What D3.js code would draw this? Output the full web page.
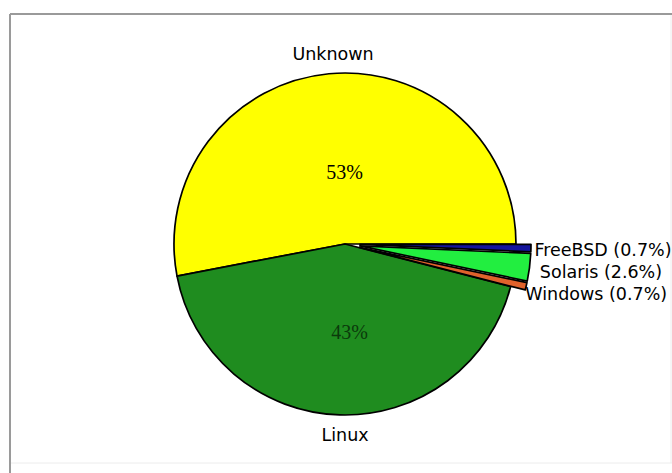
<!DOCTYPE html>
<html>
<head>
<meta charset="utf-8">
<script src="https://cdn.jsdelivr.net/npm/d3@7"></script>
<style>
  html, body { margin: 0; padding: 0; background: #fff; }
  svg { display: block; }
</style>
</head>
<body>
<svg id="chart" width="672" height="473"></svg>
<script>
// ---- data ----
const categories = ["Unknown", "Linux", "Windows", "Solaris", "FreeBSD"];
const values = [53, 43, 0.7, 2.6, 0.7];
const colors = ["#ffff00", "#1f8c1f", "#e0622c", "#22ee40", "#14149c"];
const smallSlices = ["Windows", "Solaris", "FreeBSD"];

const W = 672, H = 473;
const cx = 345, cy = 244, r = 171;
const explodeDist = 15;

const svg = d3.select("#chart");

// frame
svg.append("line").attr("x1", 10).attr("y1", 14).attr("x2", W).attr("y2", 14)
  .attr("stroke", "#9a9a9a").attr("stroke-width", 2);
svg.append("line").attr("x1", 10).attr("y1", 14).attr("x2", 10).attr("y2", H)
  .attr("stroke", "#9a9a9a").attr("stroke-width", 2);
svg.append("line").attr("x1", 11).attr("y1", 463).attr("x2", W).attr("y2", 463)
  .attr("stroke", "#ececec").attr("stroke-width", 1);
svg.append("line").attr("x1", 671).attr("y1", 15).attr("x2", 671).attr("y2", 463)
  .attr("stroke", "#ececec").attr("stroke-width", 1);

const data = categories.map((c, i) => ({ name: c, value: values[i], color: colors[i] }));

// counter-clockwise from 3 o'clock
const pie = d3.pie().sort(null).value(d => d.value)
  .startAngle(Math.PI / 2).endAngle(Math.PI / 2 - 2 * Math.PI);
const arcs = pie(data);
const arc = d3.arc().innerRadius(0).outerRadius(r);

const mid = a => (a.startAngle + a.endAngle) / 2;
const isSmall = a => smallSlices.includes(a.data.name);
const offset = a => {
  const m = mid(a), d = isSmall(a) ? explodeDist : 0;
  return [d * Math.sin(m), -d * Math.cos(m)];
};

const g = svg.append("g").attr("transform", `translate(${cx},${cy})`);

g.selectAll("path.slice").data(arcs).join("path")
  .attr("class", "slice")
  .attr("d", arc)
  .attr("transform", a => `translate(${offset(a)[0]},${offset(a)[1]})`)
  .attr("fill", a => a.data.color)
  .attr("stroke", "#000")
  .attr("stroke-width", 1.7)
  .attr("stroke-linejoin", "round");

// big slice labels: name outside, percent inside
const big = arcs.filter(a => !isSmall(a));
const outerR = r + 20, innerR = 80;

g.selectAll("text.name").data(big).join("text")
  .attr("class", "name")
  .attr("x", a => outerR * Math.sin(mid(a)) + 6)
  .attr("y", a => -outerR * Math.cos(mid(a)))
  .attr("text-anchor", "middle")
  .attr("dominant-baseline", "central")
  .attr("font-family", "DejaVu Sans, sans-serif")
  .attr("font-size", 17.5)
  .attr("fill", "#000")
  .text(a => a.data.name);

g.selectAll("text.pct").data(big).join("text")
  .attr("class", "pct")
  .attr("x", a => innerR * Math.sin(mid(a)) + 7)
  .attr("y", a => -innerR * Math.cos(mid(a)) + 8)
  .attr("text-anchor", "middle")
  .attr("dominant-baseline", "central")
  .attr("font-family", "Liberation Serif, serif")
  .attr("font-size", 20)
  .attr("fill", a => a.data.name === "Linux" ? "#0b3a0b" : "#000")
  .text(a => Math.round(a.data.value) + "%");

// small slice labels, stacked on the right (top to bottom by slice position)
const natY = a => -Math.cos(mid(a));
const small = arcs.filter(isSmall).sort((a, b) => natY(a) - natY(b)); // FreeBSD first (topmost)
const labR = 258, step = 22;
const y0 = labR * natY(small[0]);
g.selectAll("text.small").data(small).join("text")
  .attr("class", "small")
  .attr("x", a => labR * Math.sin(mid(a)))
  .attr("y", (a, i) => y0 + i * step)
  .attr("text-anchor", "middle")
  .attr("dominant-baseline", "central")
  .attr("font-family", "DejaVu Sans, sans-serif")
  .attr("font-size", 17.5)
  .attr("fill", "#000")
  .text(a => `${a.data.name} (${a.data.value}%)`);
</script>
</body>
</html>
